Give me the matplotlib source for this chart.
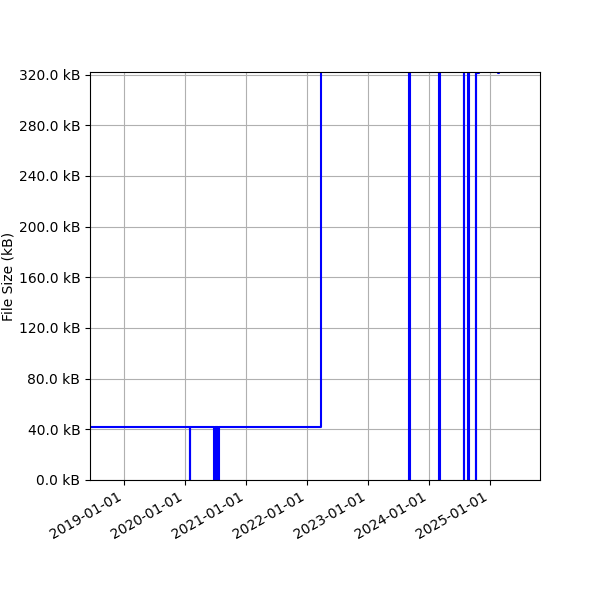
import matplotlib
matplotlib.use('Agg')
import matplotlib.pyplot as plt
import matplotlib.dates as mdates
import matplotlib.ticker as ticker
import numpy as np

# file size history (kB), step changes
dates = ["2018-06-11", "2018-09-10", "2019-02-18",
         "2020-01-29", "2020-01-31",
         "2020-06-25", "2020-06-29", "2020-07-02", "2020-07-06",
         "2020-07-09", "2020-07-13", "2020-07-16", "2020-07-20",
         "2022-03-26",
         "2023-09-06", "2023-09-09",
         "2024-03-02", "2024-03-05",
         "2024-07-27", "2024-07-29",
         "2024-08-21", "2024-08-26",
         "2024-10-07", "2024-10-09", "2024-10-26",
         "2025-02-15", "2025-02-26", "2025-03-01"]
sizes = [42.0, 41.7, 42.0,
         0.0, 42.0,
         0.0, 42.0, 0.0, 42.0,
         0.0, 42.0, 0.0, 42.0,
         340.0,
         0.0, 340.0,
         0.0, 340.0,
         0.0, 340.0,
         0.0, 340.0,
         0.0, 321.0, 340.0,
         321.0, 340.0, 340.0]

x = np.array(dates, dtype='datetime64[D]')
y = np.array(sizes)

fig, ax = plt.subplots(figsize=(6, 6), dpi=100)
ax.plot(x, y, color='b', drawstyle='steps-post')

ax.set_xlim(np.datetime64("2018-06-11"), np.datetime64("2025-10-27"))
ax.set_ylim(0, 322)
ax.yaxis.set_major_locator(ticker.MultipleLocator(40))
ax.yaxis.set_major_formatter(ticker.FuncFormatter(lambda v, p: "%.1f kB" % v))
ax.xaxis.set_major_locator(mdates.YearLocator())
ax.xaxis.set_major_formatter(mdates.DateFormatter("%Y-%m-%d"))
ax.set_ylabel("File Size (kB)", labelpad=2)
ax.grid(True)
fig.autofmt_xdate()
fig.subplots_adjust(left=0.15, right=0.9, top=0.88, bottom=0.2)

fig.savefig("out.png")
